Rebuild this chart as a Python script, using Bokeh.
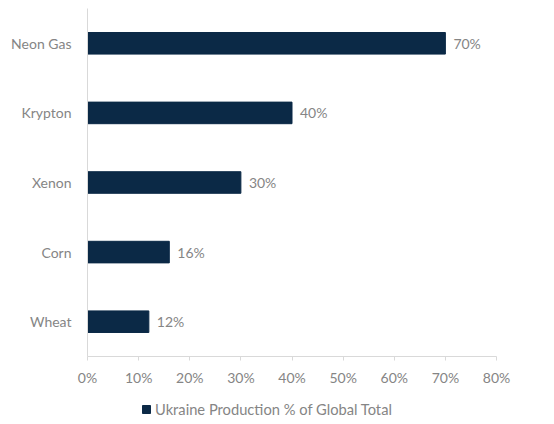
from bokeh.plotting import figure
from bokeh.layouts import column
from bokeh.models import ColumnDataSource, Range1d, FactorRange, PrintfTickFormatter, FixedTicker, Legend, LegendItem
from bokeh.embed import file_html
from bokeh.resources import INLINE

categories = ["Neon Gas", "Krypton", "Xenon", "Corn", "Wheat"]
values = [70, 40, 30, 16, 12]
value_labels = ["70%", "40%", "30%", "16%", "12%"]
x_ticks = [0, 10, 20, 30, 40, 50, 60, 70, 80]
series_name = "Ukraine Production % of Global Total"

FONT = "Lato"
TEXT = "#858585"
BAR = "#0b2946"
AXIS = "#d9d9d9"

src = ColumnDataSource(dict(cat=categories, val=values, lab=value_labels))

p = figure(width=554, height=394, output_backend="svg", toolbar_location=None,
           y_range=FactorRange(factors=list(reversed(categories)), range_padding=0),
           x_range=Range1d(0, 80),
           min_border_left=87, min_border_right=58, min_border_top=8, min_border_bottom=38)

r = p.hbar(y="cat", right="val", left=0, height=0.31, color=BAR, source=src)
p.text(x="val", y="cat", text="lab", source=src, x_offset=8, text_baseline="middle",
       text_align="left", text_font_size="14px", text_color=TEXT, text_font={"value": FONT})

p.xgrid.visible = False
p.ygrid.visible = False
p.outline_line_color = None

p.xaxis.ticker = FixedTicker(ticks=x_ticks)
p.xaxis.formatter = PrintfTickFormatter(format="%d%%")
p.xaxis.axis_line_color = AXIS
p.xaxis.major_tick_line_color = AXIS
p.xaxis.major_tick_out = 4
p.xaxis.major_tick_in = 0
p.xaxis.minor_tick_line_color = None
p.xaxis.major_label_text_font = FONT
p.xaxis.major_label_text_font_size = "14px"
p.xaxis.major_label_text_color = TEXT
p.xaxis.major_label_standoff = 8

p.yaxis.axis_line_color = AXIS
p.yaxis.major_tick_line_color = None
p.yaxis.minor_tick_line_color = None
p.yaxis.major_label_text_font = FONT
p.yaxis.major_label_text_font_size = "14px"
p.yaxis.major_label_text_color = TEXT
p.yaxis.major_label_standoff = 10

# legend strip below the chart (frame aligned with the main chart's frame)
lg = figure(width=554, height=30, output_backend="svg", toolbar_location=None,
            x_range=Range1d(0, 1), y_range=Range1d(0, 1),
            min_border_left=0, min_border_right=0, min_border_top=0, min_border_bottom=0)
lg.axis.visible = False
lg.grid.visible = False
lg.outline_line_color = None
lr = lg.hbar(y=[-5], right=[0], left=0, height=0.3, color=BAR)
legend = Legend(items=[LegendItem(label=series_name, renderers=[lr])],
                orientation="horizontal", border_line_color=None, background_fill_alpha=0,
                label_text_font=FONT, label_text_font_size="14.7px", label_text_color=TEXT,
                glyph_width=10, glyph_height=10, label_standoff=4,
                padding=0, margin=0, location=(54, 6))
lg.add_layout(legend, "center")

layout = column(p, lg, spacing=0)
open("out.html", "w").write(file_html(layout, INLINE))
